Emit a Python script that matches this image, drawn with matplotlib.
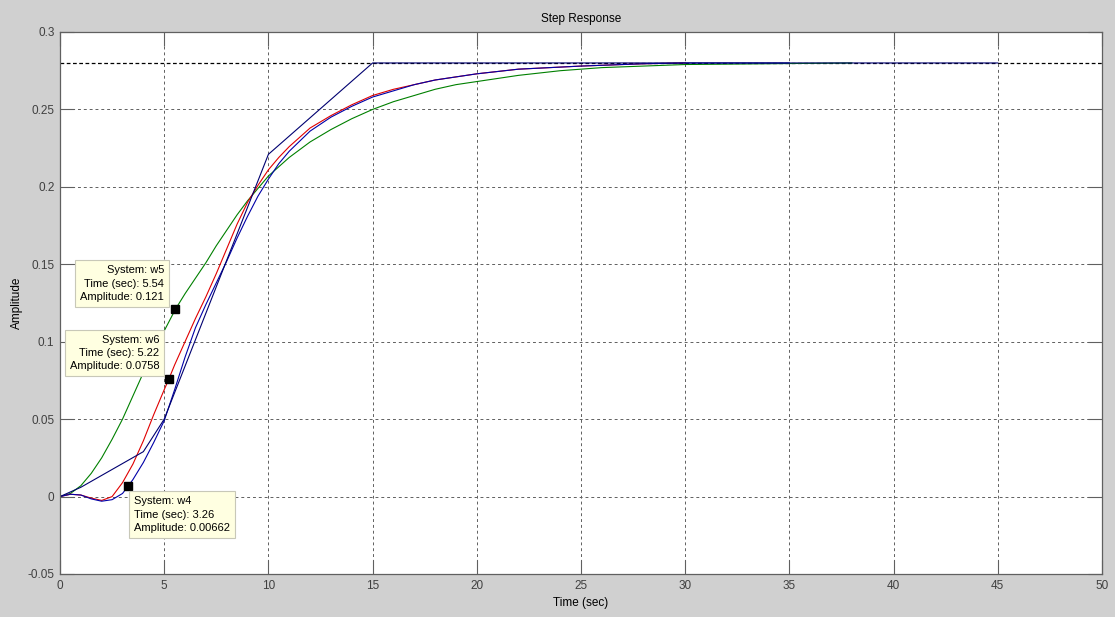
import numpy as np
import matplotlib
matplotlib.use("Agg")
from matplotlib import pyplot as plt

plt.rcParams["font.family"] = ["Liberation Sans", "DejaVu Sans"]

# step responses
t_w5 = [0, 0.5, 1, 1.5, 2, 2.5, 3, 3.5, 4, 4.5, 5, 5.54, 6, 6.5, 7, 7.5, 8, 8.5, 9, 9.5, 10,
        11, 12, 13, 14, 15, 16, 17, 18, 19, 20, 22, 24, 26, 28, 30, 34, 38]
y_w5 = [0, 0.002, 0.007, 0.015, 0.025, 0.037, 0.050, 0.065, 0.080, 0.094, 0.107, 0.121, 0.131,
        0.141, 0.151, 0.162, 0.172, 0.182, 0.191, 0.199, 0.207, 0.219, 0.229, 0.237, 0.244, 0.250,
        0.255, 0.259, 0.263, 0.266, 0.268, 0.272, 0.275, 0.277, 0.278, 0.279, 0.2795, 0.280]

t_w6 = [0, 0.5, 1, 1.5, 2, 2.5, 3, 3.5, 4, 4.5, 5, 5.22, 5.5, 6, 6.5, 7, 7.5, 8, 8.5, 9, 9.5, 10,
        10.5, 11, 12, 13, 14, 15, 16, 17, 18, 20, 22, 25, 28, 30]
y_w6 = [0, 0.0015, 0.001, -0.001, -0.0025, 0.0, 0.009, 0.021, 0.036, 0.053, 0.069, 0.0758, 0.085,
        0.100, 0.115, 0.129, 0.144, 0.160, 0.176, 0.190, 0.201, 0.211, 0.219, 0.226, 0.238, 0.246,
        0.253, 0.259, 0.263, 0.266, 0.269, 0.273, 0.276, 0.278, 0.2795, 0.280]

t_w4 = [0, 0.5, 1, 1.5, 2, 2.5, 3, 3.26, 3.5, 4, 4.5, 5, 5.5, 6, 6.5, 7, 7.5, 8, 8.5, 9, 9.5, 10,
        10.5, 11, 12, 13, 14, 15, 16, 17, 18, 20, 22, 25, 28, 30, 35]
y_w4 = [0, 0.0015, 0.001, -0.0015, -0.003, -0.002, 0.002, 0.0066, 0.011, 0.022, 0.035, 0.049, 0.069,
        0.090, 0.109, 0.124, 0.138, 0.152, 0.167, 0.181, 0.194, 0.205, 0.215, 0.223, 0.236, 0.245,
        0.252, 0.258, 0.262, 0.266, 0.269, 0.273, 0.276, 0.278, 0.2795, 0.280, 0.280]

t_wd = [0, 1, 4, 5, 10, 15, 45]
y_wd = [0, 0.006, 0.029, 0.050, 0.221, 0.280, 0.280]

final_value = 0.28

# data tips: system, time, amplitude
tip_sys = ["w5", "w6", "w4"]
tip_t = [5.54, 5.22, 3.26]
tip_y = [0.121, 0.0758, 0.00662]

bg = "#d0d0d0"
fig = plt.figure(figsize=(11.15, 6.17), dpi=100, facecolor=bg)
ax = fig.add_axes([60 / 1115, 43 / 617, 1042 / 1115, 542 / 617])
ax.set_facecolor("white")

ax.axhline(final_value, color="black", lw=0.9, ls=(0, (3, 2)), zorder=1)
ax.plot(t_w5, y_w5, color="#008000", lw=0.8)
ax.plot(t_w6, y_w6, color="#e00000", lw=0.8)
ax.plot(t_w4, y_w4, color="#0000a8", lw=0.8)
ax.plot(t_wd, y_wd, color="#000070", lw=0.8)

ax.set_xlim(0, 50)
ax.set_ylim(-0.05, 0.3)
ax.set_xticks(np.arange(0, 51, 5))
ax.set_yticks(np.arange(-0.05, 0.31, 0.05))
ax.set_yticklabels(["-0.05", "0", "0.05", "0.1", "0.15", "0.2", "0.25", "0.3"])
ax.grid(True, color="#606060", ls=(0, (3, 3)), lw=0.7)
ax.tick_params(direction="in", length=10, width=0.8, color="#606060", labelcolor="#404040",
               labelsize=8.5, top=True, right=True, pad=4)
for s in ax.spines.values():
    s.set_color("#606060")
    s.set_linewidth(0.9)

ax.set_title("Step Response", fontsize=8.5, pad=7)
ax.set_xlabel("Time (sec)", fontsize=8.5, labelpad=4)
ax.set_ylabel("Amplitude", fontsize=8.5, labelpad=3)

box = dict(boxstyle="square,pad=0.45", fc="#ffffe1", ec="#c8c8b8", lw=0.8)
txt_x = [5.0, 4.76, 3.53]
txt_y = [0.1375, 0.0926, -0.0117]
txt_ha = ["right", "right", "left"]
for i in range(3):
    ax.plot(tip_t[i], tip_y[i], "s", color="black", ms=6, zorder=5)
    txt = "System: %s\nTime (sec): %.3g\nAmplitude: %.3g" % (tip_sys[i], tip_t[i], tip_y[i])
    ax.text(txt_x[i], txt_y[i], txt, ha=txt_ha[i], ma=txt_ha[i], va="center", fontsize=8,
            linespacing=1.4, zorder=6, bbox=box)

fig.savefig("out.png", dpi=100, facecolor=bg)
